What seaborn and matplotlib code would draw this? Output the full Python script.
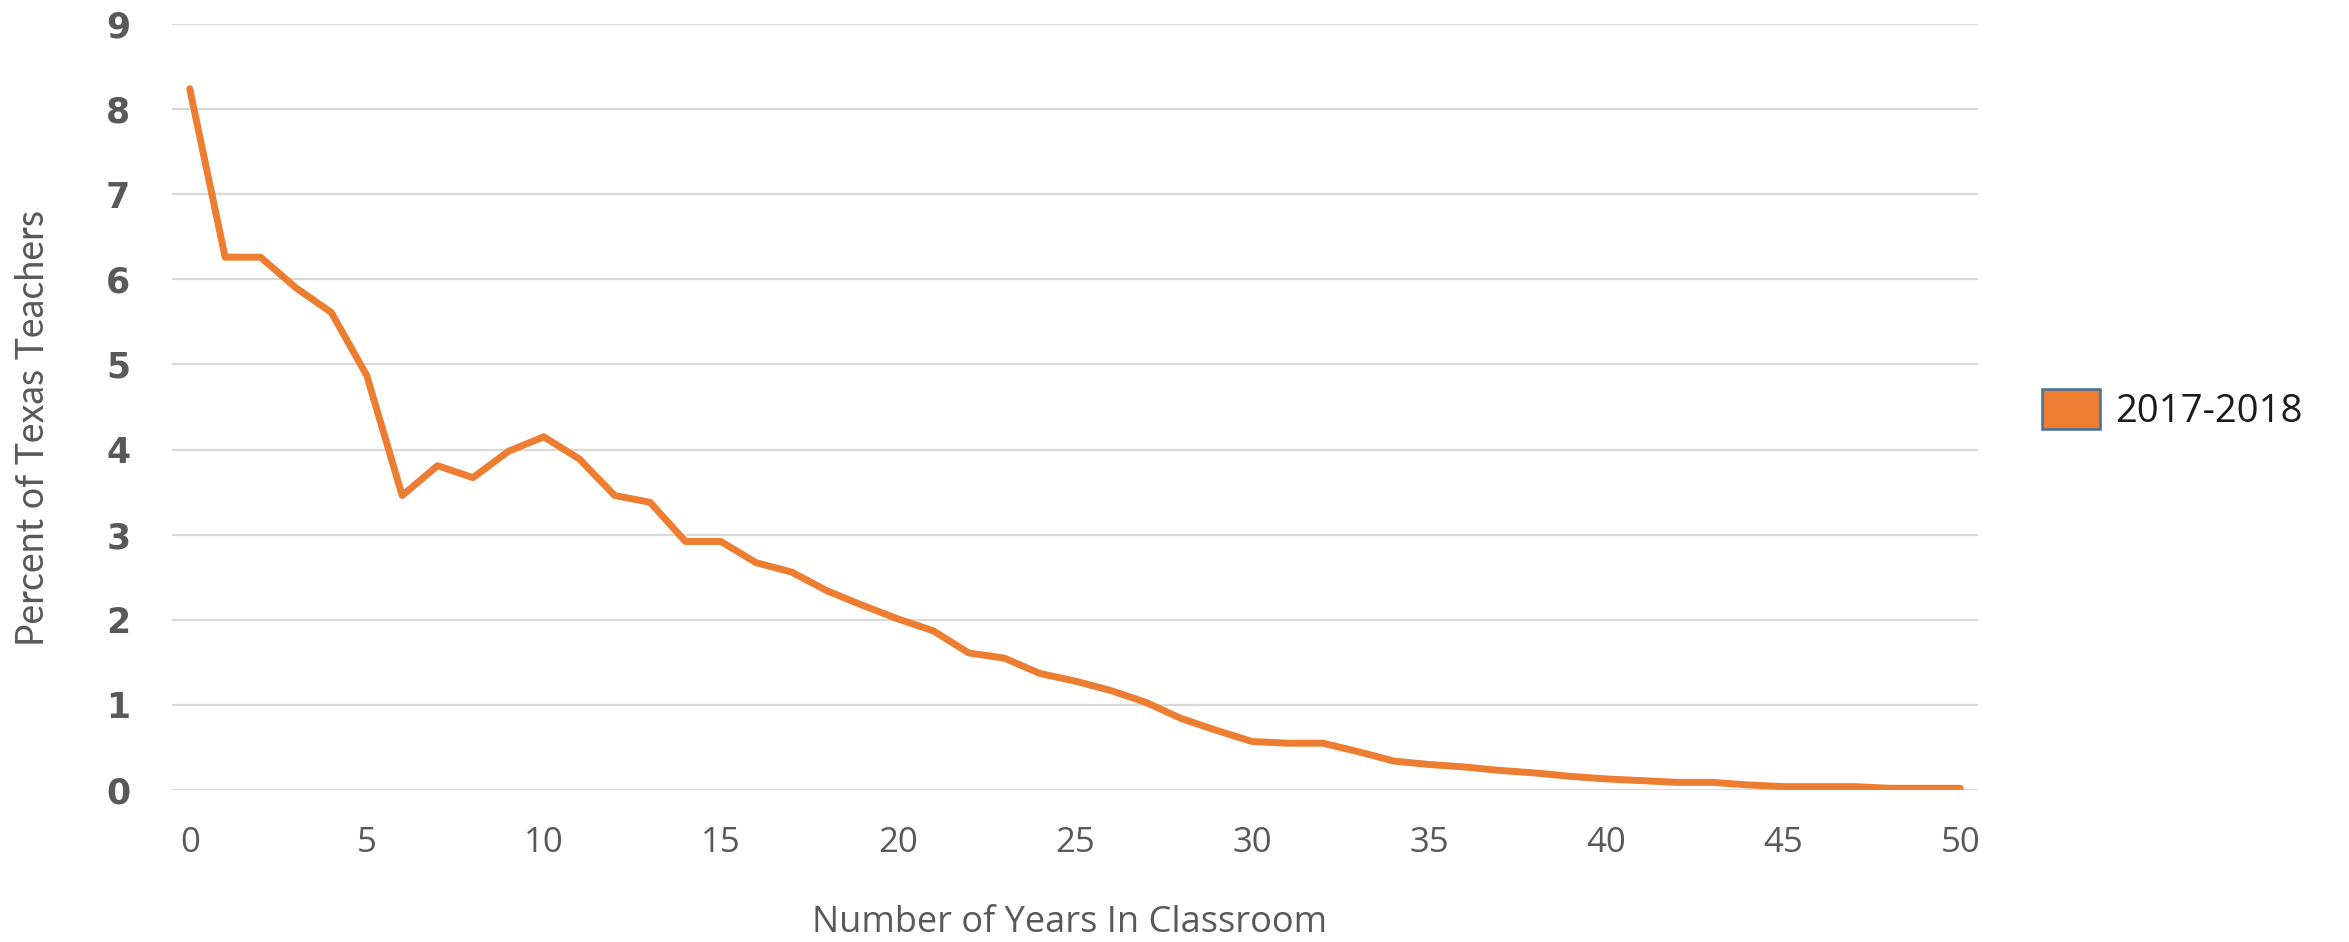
import matplotlib
matplotlib.use("Agg")
import matplotlib.pyplot as plt
from matplotlib.patches import Patch
import seaborn as sns
import pandas as pd

years = list(range(0, 51))
percent = [8.24, 6.26, 6.26, 5.90, 5.61, 4.87, 3.46, 3.81, 3.67, 3.98,
           4.15, 3.89, 3.46, 3.38, 2.92, 2.92, 2.67, 2.56, 2.34, 2.17,
           2.01, 1.87, 1.61, 1.55, 1.37, 1.28, 1.17, 1.03, 0.84, 0.70,
           0.57, 0.55, 0.55, 0.45, 0.34, 0.30, 0.27, 0.23, 0.20, 0.16,
           0.13, 0.11, 0.09, 0.09, 0.06, 0.04, 0.04, 0.04, 0.02, 0.02,
           0.02]
series_name = "2017-2018"
x_ticks = [0, 5, 10, 15, 20, 25, 30, 35, 40, 45, 50]
y_ticks = [0, 1, 2, 3, 4, 5, 6, 7, 8, 9]
x_title = "Number of Years In Classroom"
y_title = "Percent of Texas Teachers"

df = pd.DataFrame({"years": years, "percent": percent})

sns.set_theme(style="white")
plt.rcParams['font.family'] = ['Open Sans', 'DejaVu Sans']
plt.rcParams['savefig.bbox'] = None

orange = "#ED7D31"
gray_text = "#595959"

fig = plt.figure(figsize=(23.49, 9.42), dpi=100)
ax = fig.add_axes([172/2349, 1-790/942, (1978-172)/2349, (790-24)/942])

sns.lineplot(data=df, x="years", y="percent", ax=ax, color=orange,
             linewidth=5.0, legend=False, solid_joinstyle="round",
             solid_capstyle="round")

ax.set_xlim(-0.5, 50.5)
ax.set_ylim(0, 9)
ax.set_xticks(x_ticks)
ax.set_yticks(y_ticks)
ax.set_xticklabels([str(t) for t in x_ticks], fontsize=25, color=gray_text)
ax.set_yticklabels([str(t) for t in y_ticks], fontsize=25, color=gray_text,
                   fontweight="bold", family="DejaVu Sans")
ax.tick_params(axis="x", length=0, pad=26)
ax.tick_params(axis="y", length=0, pad=30)
ax.yaxis.grid(True, color="#D9D9D9", linewidth=1.6)
ax.xaxis.grid(False)
for s in ax.spines.values():
    s.set_visible(False)
ax.set_axisbelow(True)

ax.set_xlabel("")
ax.set_ylabel("")
fig.text(1070/2349, 1-923/942, x_title, ha="center", va="center",
         fontsize=26, color=gray_text)
fig.text(33/2349, 1-428/942, y_title, ha="center", va="center",
         rotation=90, fontsize=27, color=gray_text, family="Lato")

handle = Patch(facecolor=orange, edgecolor="#41719C", linewidth=1.8)
fig.legend(handles=[handle], labels=[series_name], loc="center left",
           bbox_to_anchor=(2008/2349, 1-410/942), frameon=False,
           fontsize=27.5, handlelength=1.5, handleheight=1.25,
           handletextpad=0.4, labelcolor="#1a1a1a")

fig.savefig("out.png", dpi=100, bbox_inches=None)
